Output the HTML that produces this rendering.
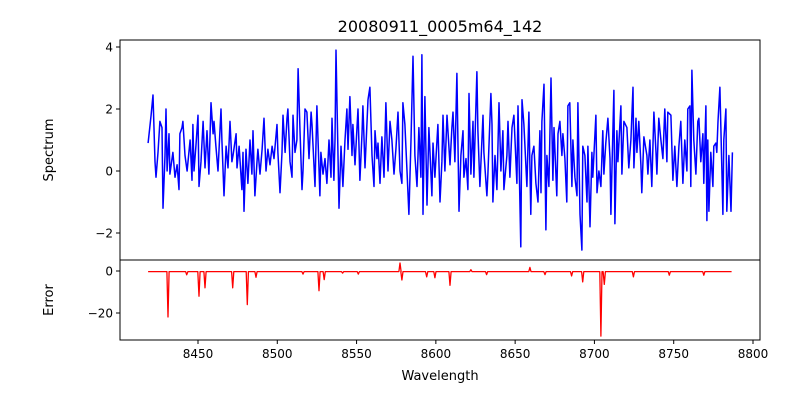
<!DOCTYPE html>
<html><head><meta charset="utf-8"><style>
body{margin:0;background:#fff;}
svg text{font-family:"DejaVu Sans","Liberation Sans",sans-serif;fill:#000;}
</style></head><body>
<svg id="chart" width="800" height="400" viewBox="0 0 800 400" xmlns="http://www.w3.org/2000/svg">
<rect width="800" height="400" fill="#fff"/>
<text x="440" y="32" font-size="16" text-anchor="middle">20080911_0005m64_142</text>
<g id="gtop"></g>
<g id="gbot"></g>
<text transform="translate(53,150) rotate(-90)" font-size="13" text-anchor="middle">Spectrum</text>
<text transform="translate(53,300) rotate(-90)" font-size="13" text-anchor="middle">Error</text>
<text x="440" y="380" font-size="13" text-anchor="middle">Wavelength</text>
</svg>
<script>
const specWave=[8418.5,8420.4,8421.6,8422.9,8423.5,8424.8,8426.0,8427.3,8427.9,8429.2,8429.8,8430.5,8431.7,8432.3,8434.2,8435.5,8436.8,8438.0,8438.6,8439.9,8440.5,8441.8,8443.1,8445.0,8446.2,8446.8,8447.5,8448.7,8450.0,8450.6,8451.9,8453.2,8454.4,8455.7,8456.9,8458.2,8459.5,8460.1,8461.3,8462.6,8464.5,8465.1,8466.4,8467.7,8468.9,8470.2,8471.4,8472.1,8474.0,8474.6,8475.9,8477.7,8478.4,8479.0,8480.3,8481.5,8482.8,8484.0,8484.7,8485.9,8487.2,8487.8,8489.1,8490.4,8491.6,8492.9,8494.1,8495.4,8496.7,8497.9,8499.8,8500.4,8501.7,8503.0,8503.6,8504.9,8506.1,8506.7,8508.0,8509.3,8509.9,8511.2,8512.4,8513.1,8514.3,8515.6,8516.2,8517.5,8518.7,8520.0,8521.3,8521.9,8523.8,8525.0,8526.9,8527.5,8528.8,8530.1,8531.3,8532.6,8533.9,8534.5,8535.7,8536.4,8537.0,8538.3,8538.9,8540.2,8541.4,8542.7,8543.9,8544.6,8545.8,8547.1,8547.7,8549.0,8550.9,8552.1,8553.4,8554.0,8555.3,8557.2,8558.4,8559.7,8561.0,8561.6,8562.9,8563.5,8564.8,8566.0,8567.3,8568.5,8569.8,8571.1,8572.3,8573.6,8574.8,8576.1,8577.4,8578.6,8579.2,8580.5,8581.8,8583.0,8584.3,8585.6,8586.8,8588.1,8589.3,8590.6,8591.2,8591.9,8593.1,8594.4,8595.6,8597.5,8598.2,8599.4,8600.7,8601.3,8602.6,8603.8,8604.5,8605.7,8607.0,8608.9,8610.1,8610.8,8612.0,8613.3,8614.6,8615.8,8617.1,8617.7,8619.0,8620.2,8620.9,8622.1,8623.4,8624.0,8625.9,8626.5,8627.8,8629.7,8630.3,8632.2,8632.8,8634.7,8635.4,8636.0,8637.3,8638.5,8639.8,8641.0,8642.3,8642.9,8644.8,8645.5,8646.7,8648.0,8649.2,8651.1,8651.8,8653.6,8654.3,8655.5,8657.4,8658.7,8659.9,8660.6,8661.8,8663.1,8664.4,8665.6,8666.3,8666.9,8668.2,8669.4,8670.0,8671.3,8672.6,8673.8,8674.5,8676.3,8677.0,8678.2,8679.5,8680.1,8681.4,8682.6,8683.3,8684.5,8685.8,8686.4,8687.7,8689.0,8689.6,8690.9,8692.1,8692.7,8694.0,8695.3,8695.9,8697.2,8698.4,8699.0,8700.9,8701.6,8702.8,8704.1,8705.3,8706.0,8707.2,8708.5,8709.8,8710.4,8711.0,8712.3,8712.9,8714.2,8714.8,8716.7,8717.3,8718.6,8720.5,8721.7,8723.0,8724.3,8724.9,8726.2,8726.8,8728.0,8729.3,8729.9,8731.2,8733.1,8733.7,8735.0,8736.2,8737.5,8738.8,8739.4,8740.6,8741.9,8743.2,8744.4,8745.7,8746.3,8748.2,8749.5,8750.7,8752.0,8753.3,8754.5,8755.8,8757.0,8758.3,8758.9,8760.2,8760.8,8761.5,8762.7,8764.0,8765.2,8765.9,8767.1,8768.4,8769.0,8770.3,8770.9,8771.5,8772.2,8773.4,8774.7,8775.3,8776.6,8777.2,8777.9,8779.1,8780.4,8781.0,8781.6,8782.9,8783.5,8784.8,8786.1,8787.0];
const specFlux=[0.9,1.8,2.45,0.3,-0.2,0.6,1.6,1.4,-1.2,0.5,2.0,0,1.2,-0.1,0.6,-0.2,0.2,-0.6,1.2,1.4,1.6,0.5,0,1.0,-0.3,1.5,0,0.8,1.8,-0.5,0.3,1.6,0.1,1.3,-0.1,2.2,1.2,1.6,0.8,0,2.0,1.0,-0.8,0.8,0.1,1.6,0.3,0.5,1.2,0.1,0.8,-0.6,0.6,-1.3,0.7,-0.4,1.0,-0.1,1.3,-0.8,0.3,0.7,-0.1,0.7,1.7,0,0.7,0.2,0.8,0.4,1.5,0.6,-0.7,0.6,1.8,0.6,1.7,2.0,0.3,-0.2,1.8,0.6,1.0,3.3,1.3,-0.6,0,2.0,1.9,0.4,1.9,1.5,-0.5,2.1,-0.8,0.6,-0.1,0.4,-0.4,1.0,-0.2,1.7,-0.3,1.0,3.9,0.5,-1.2,0.8,-0.5,1.0,2.0,0.7,2.4,0.5,1.5,0.2,2.0,-0.3,1.2,2.1,0.1,2.3,2.7,0.5,-0.5,1.3,0.4,0.9,-0.4,1.1,-0.2,2.2,0,1.6,1.0,-0.1,0.7,1.9,0,-0.4,2.2,1.5,0,-1.4,1.0,3.7,0.5,-0.5,1.4,-0.2,3.75,-1.4,2.4,-1.1,1.4,-0.8,0.9,-0.2,1.0,1.5,-1.0,0.3,1.8,0,1.8,0.2,1.4,1.9,0.3,3.15,-1.3,0.5,1.3,-0.2,0.4,-0.6,2.5,-0.1,1.6,-0.2,3.2,1.3,-0.5,1.8,0.6,-0.8,-0.1,2.5,1.5,-1.0,0.5,-0.6,2.2,0,1.3,-0.6,0.5,1.6,-0.2,1.4,1.8,-0.4,2.1,-2.45,2.3,1.5,-0.5,1.9,-1.4,0.5,0.8,-0.4,-1.0,1.3,-0.7,1.6,2.8,-1.9,0.5,-0.5,3.0,-0.3,1.4,-0.8,1.2,1.6,0.5,1.2,0.4,-1.0,2.1,2.2,-0.5,1.0,-0.2,-0.8,2.2,-1.4,-2.55,0.8,0.5,-1.0,0.8,-1.8,0.6,-0.2,1.8,-0.7,0,-0.5,1.3,-0.1,0.9,1.7,0.4,-1.4,0,2.6,-1.7,1.3,0.3,2.1,-0.1,1.6,1.4,0.1,1.0,2.7,0.1,1.7,0.6,1.6,0.2,-0.7,1.1,0.5,-0.1,1.0,-0.5,1.9,0.6,-0.1,1.7,1.0,0.4,2.0,0.3,1.9,1.8,-0.3,0.8,-0.5,0.8,1.6,-0.4,1.0,0,2.0,2.1,-0.5,3.25,1.0,-0.1,1.6,1.7,0.3,1.2,-0.4,2.1,-1.6,1.0,-1.3,0.6,-0.5,0.8,0.9,0.6,1.6,2.7,0,-1.4,1.0,2.0,-1.3,0.5,-1.3,0.6,-1.2];
const errWave=[8431.1,8442.9,8450.6,8454.4,8471.9,8481.1,8486.6,8516.2,8526.3,8529.6,8541.2,8551.1,8577.4,8578.6,8594.2,8599.4,8608.9,8622.1,8632.0,8659.3,8668.8,8685.6,8692.6,8704.1,8706.2,8724.6,8747.2,8769.0];
const errVal=[-21.9,-1.8,-12,-8,-8,-16,-3,-1.5,-9.4,-4.1,-1,-1.5,3.8,-4.3,-2.8,-3.2,-6.8,0.6,-1.7,1.7,-1.7,-2.4,-5.2,-31,-6.4,-2.8,-2.0,-2.0];
const errStart=8418.5, errEnd=8786.5, errBase=-0.3;
const xTicks=[8450,8500,8550,8600,8650,8700,8750,8800];
const topTicks=[-2,0,2,4];
const botTicks=[0,-20];

const NS="http://www.w3.org/2000/svg";
const L=120,R=760,T1=40,B1=260,T2=260,B2=340;
const X=w=>198+(w-8450)*1.5857;
const Y1=v=>171-v*31;
const Y2=v=>271-v*2.1;
function mk(tag,attrs,parent){const e=document.createElementNS(NS,tag);for(const k in attrs)e.setAttribute(k,attrs[k]);parent.appendChild(e);return e;}
const gTop=document.getElementById('gtop'),gBot=document.getElementById('gbot');

const nSpec=Math.min(specWave.length,specFlux.length);
let d='';
for(let i=0;i<nSpec;i++){d+=(i?'L':'M')+X(specWave[i]).toFixed(1)+','+Y1(specFlux[i]).toFixed(1);}
let p=mk('path',{d:d,fill:'none',stroke:'#0000ff','stroke-width':1.5,'stroke-linejoin':'round'},gTop);



let pts=[[errStart,errBase]];
errWave.forEach((w,i)=>{pts.push([w-0.7,errBase]);pts.push([w,errVal[i]]);pts.push([w+0.7,errBase]);});
pts.push([errEnd,errBase]);
let d2=pts.map((q,i)=>(i?'L':'M')+X(q[0]).toFixed(1)+','+Y2(q[1]).toFixed(1)).join('');
let p2=mk('path',{d:d2,fill:'none',stroke:'#ff0000','stroke-width':1.3,'stroke-linejoin':'round'},gBot);



let f1=mk('rect',{x:L,y:T1,width:R-L,height:B1-T1,fill:'none',stroke:'#000','stroke-width':1},gTop);


let f2=mk('rect',{x:L,y:T2,width:R-L,height:B2-T2,fill:'none',stroke:'#000','stroke-width':1},gBot);



xTicks.forEach(t=>{const x=X(t);
 let l=mk('line',{x1:x,x2:x,y1:B2,y2:B2+4,stroke:'#000'},gBot);
 
 
 let tx=mk('text',{x:x,y:B2+18,'font-size':12,'text-anchor':'middle'},gBot);tx.textContent=t;
 
 
});
topTicks.forEach(t=>{const y=Y1(t);
 let l=mk('line',{x1:L-4,x2:L,y1:y,y2:y,stroke:'#000'},gTop);
 
 
 let tx=mk('text',{x:L-7,y:y+4.5,'font-size':12,'text-anchor':'end'},gTop);tx.textContent=t<0?'\u2212'+(-t):t;
 
 
});
botTicks.forEach(t=>{const y=Y2(t);
 let l=mk('line',{x1:L-4,x2:L,y1:y,y2:y,stroke:'#000'},gBot);
 
 
 let tx=mk('text',{x:L-7,y:y+4.5,'font-size':12,'text-anchor':'end'},gBot);tx.textContent=t<0?'\u2212'+(-t):t;
 
 
});
</script>
</body></html>
